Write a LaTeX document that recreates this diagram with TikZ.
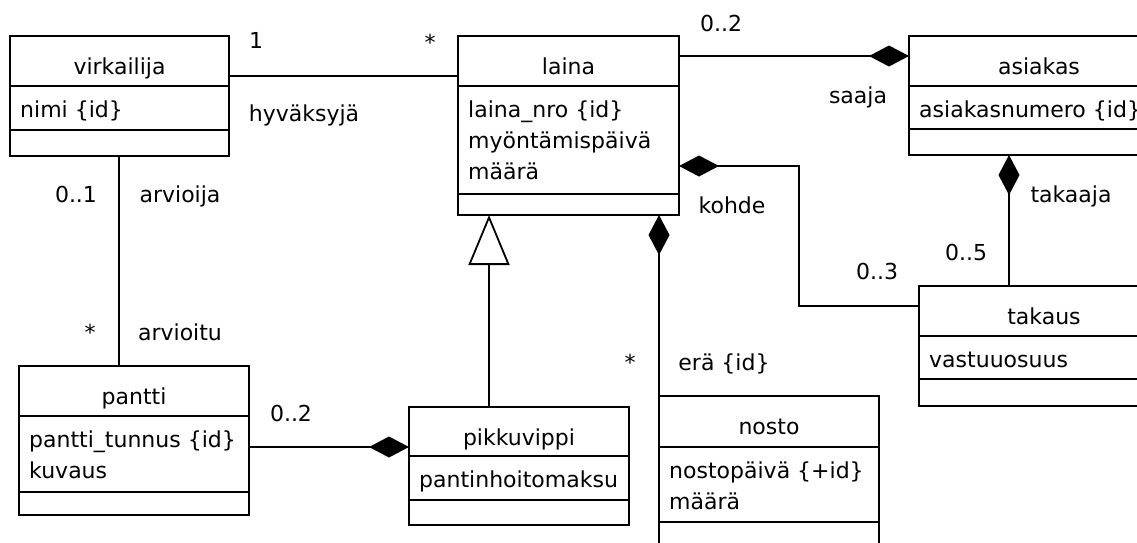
\documentclass[tikz,border=0pt]{standalone}
\usepackage{fontspec}
\setmainfont{DejaVu Sans}
\usetikzlibrary{arrows.meta,calc}

\tikzset{
  cls/.style={draw, line width=1.9pt, inner sep=0pt, outer sep=0pt},
  txt/.style={font=\fontsize{22pt}{30pt}\selectfont, inner sep=0pt, anchor=base},
  link/.style={line width=1.8pt},
  comp/.style={{Diamond[length=40pt,width=21pt]}-},
  gen/.style={{Triangle[open,length=50pt,width=41pt]}-}
}

\begin{document}
\begin{tikzpicture}[x=1pt,y=-1pt]
 \useasboundingbox (0,0) rectangle (1137,542);
 \clip (0,0) rectangle (1137,542);
    % class box: name, corner, width, three heights, title, attributes
      \newcommand{\classbox}[8]{%
        \node[cls, minimum width=#3, minimum height=#4+#5+#6, anchor=north west] (#1) at #2 {};
        \draw[link] ([yshift=-#4pt]#1.north west) -- ([yshift=-#4pt]#1.north east)
          ([yshift={-(#4+#5)*1pt}]#1.north west) -- ([yshift={-(#4+#5)*1pt}]#1.north east);
        \node[txt] (#1-t) at ([yshift=-38pt]#1.north) {#7};
        \foreach \a [count=\i] in {#8}
          \node[txt, anchor=base west] (#1-\i) at ([xshift=10pt, yshift={-(#4+31+31*(\i-1))*1pt}]#1.north west) {\a};
      }
    \classbox{virkailija}{(10,36)}{219}{50}{44}{26}{virkailija}{nimi \{id\}}
    \classbox{laina}{(458,36)}{221}{50}{108}{21}{laina}{laina\_nro \{id\}, myöntämispäivä, määrä}
    \classbox{asiakas}{(909,36)}{260}{50}{43}{26}{asiakas}{asiakasnumero \{id\}}
    \classbox{takaus}{(919,286)}{250}{50}{43}{27}{takaus}{vastuuosuus}
    \classbox{pantti}{(19,366)}{230}{50}{76}{23}{pantti}{pantti\_tunnus \{id\}, kuvaus}
    \classbox{pikkuvippi}{(409,407)}{220}{49}{44}{25}{pikkuvippi}{pantinhoitomaksu}
    \classbox{nosto}{(659,396)}{220}{51}{75}{30}{nosto}{nostopäivä \{+id\}, määrä}
    % associations
    \draw[link] ([yshift=-40pt]virkailija.north east) -- ([yshift=-40pt]laina.north west);
    \draw[link] ([xshift=109pt]virkailija.south west) -- ([xshift=100pt]pantti.north west);
    % compositions
    \draw[link,comp] ([yshift=-20pt]asiakas.north west) -- ([yshift=-20pt]laina.north east);
    \draw[link,comp] ([yshift=-130pt]laina.north east) -- ++(120,0) |- ([yshift=-20pt]takaus.north west);
    \draw[link,comp] ([xshift=100pt]asiakas.south west) -- ([xshift=90pt]takaus.north west);
    \draw[link,comp] ([xshift=201pt]laina.south west) -- (nosto.north west);
    \draw[link,comp] ([yshift=-40pt]pikkuvippi.north west) -- ([yshift=-81pt]pantti.north east);
    % generalisation
    \draw[link,gen] ([xshift=31pt]laina.south west) -- ([xshift=80pt]pikkuvippi.north west);
    % roles and multiplicities
    \node[txt] (m1) at (256,48) {1};
    \node[txt] (m2) at (430,50) {*};
    \node[txt] (r1) at (304,121) {hyväksyjä};
    \node[txt] (m3) at (721,31) {0..2};
    \node[txt] (r2) at (858,103) {saaja};
    \node[txt] (r3) at (732,213) {kohde};
    \node[txt] (m4) at (877,279) {0..3};
    \node[txt] (m5) at (966,260) {0..5};
    \node[txt] (r4) at (1071,202) {takaaja};
    \node[txt] (m6) at (76,202) {0..1};
    \node[txt] (r5) at (180,202) {arvioija};
    \node[txt] (m7) at (90,340) {*};
    \node[txt] (r6) at (180,340) {arvioitu};
    \node[txt] (m8) at (291,421) {0..2};
    \node[txt] (m9) at (630,370) {*};
    \node[txt] (r7) at (724,370) {erä \{id\}};
\end{tikzpicture}
\end{document}
